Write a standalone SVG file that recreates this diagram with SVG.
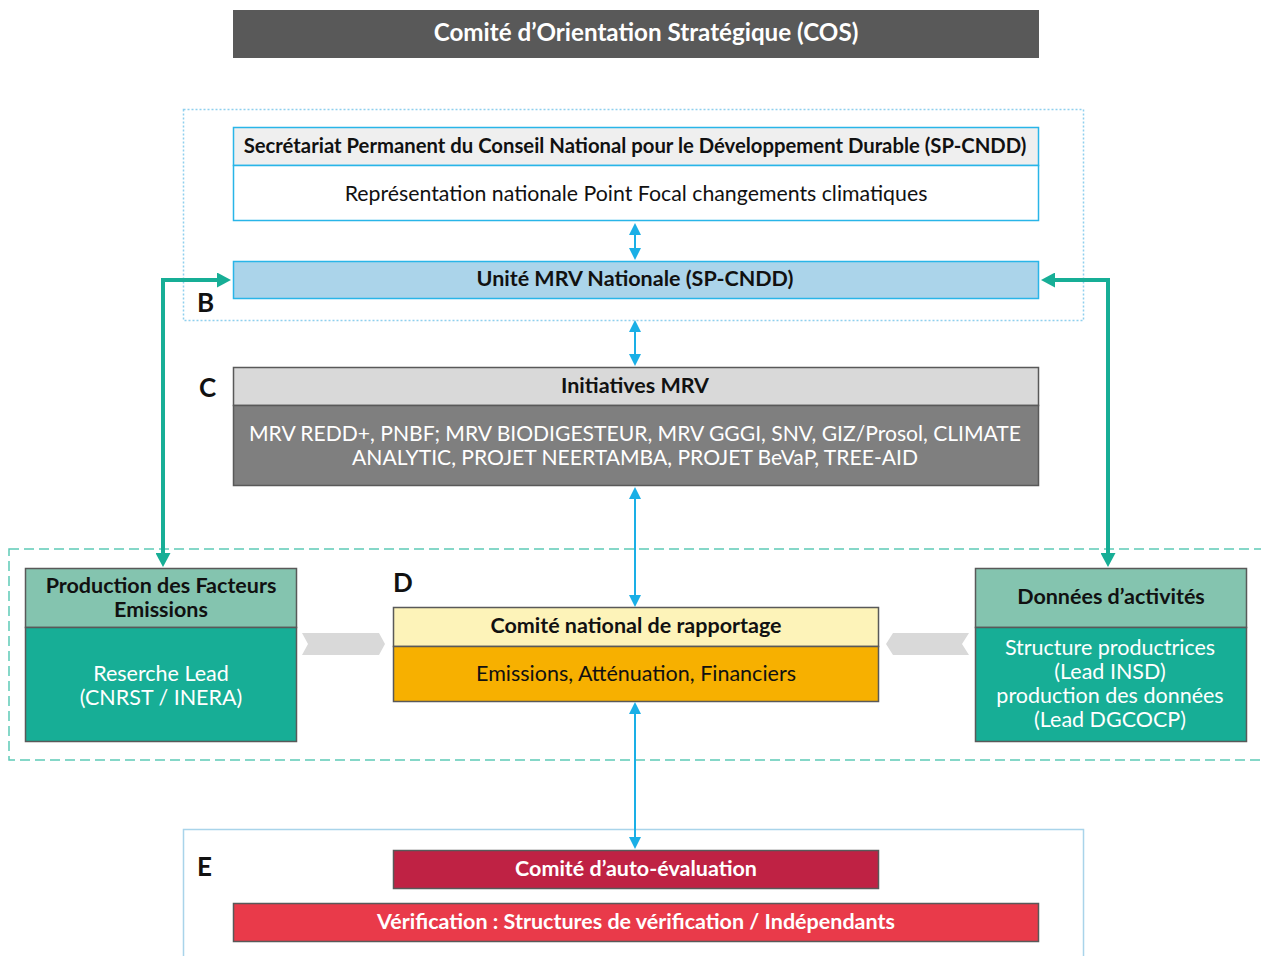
<svg xmlns="http://www.w3.org/2000/svg" width="1261" height="956" viewBox="0 0 1261 956">
<style>
text{font-family:Lato,"Liberation Sans",sans-serif;text-anchor:middle;font-size:21.5px}
.b{font-weight:bold}
.w{fill:#ffffff}
.k{fill:#111111}
.lbl{font-weight:bold;font-size:26px;text-anchor:start;fill:#111}
.gs{stroke:#595959;stroke-width:1.5}
.cy{stroke:#29b5e8;stroke-width:1.5}
.ca{stroke:#1aafe6;stroke-width:2;fill:none;marker-start:url(#ac);marker-end:url(#ac)}
.ga{stroke:#17ae96;stroke-width:4;fill:none;marker-start:url(#ag);marker-end:url(#ag)}
</style>
<defs>
<marker id="ac" markerUnits="userSpaceOnUse" markerWidth="12" markerHeight="12" refX="0" refY="6" orient="auto-start-reverse" viewBox="0 0 12 12"><path d="M0,0 L12,6 L0,12 z" fill="#1aafe6"/></marker>
<marker id="ag" markerUnits="userSpaceOnUse" markerWidth="14" markerHeight="15" refX="0" refY="7.5" orient="auto-start-reverse" viewBox="0 0 14 15"><path d="M0,0 L14,7.5 L0,15 z" fill="#17ae96"/></marker>
</defs>
<rect width="1261" height="956" fill="#ffffff"/>

<g id="frames">
<rect x="183.5" y="109.5" width="900" height="211" fill="none" stroke="#8fd0ee" stroke-width="1.5" stroke-dasharray="2 2"/>
<rect x="9" y="549" width="1270" height="211" fill="none" stroke="#5ecab6" stroke-width="1.5" stroke-dasharray="10 5"/>
<rect x="183.5" y="829.5" width="900" height="140" fill="none" stroke="#a9d4ea" stroke-width="1.5"/>
<text class="lbl" x="197" y="312">B</text>
<text class="lbl" x="199" y="397">C</text>
<text class="lbl" x="393" y="592">D</text>
<text class="lbl" x="197" y="876">E</text>
</g>

<g id="cos">
<rect x="233" y="10" width="806" height="48" fill="#595959"/>
<text class="b w" x="646" y="41" style="font-size:24.2px">Comité d’Orientation Stratégique (COS)</text>
</g>

<g id="spcndd">
<rect class="cy" x="233.5" y="127.5" width="805" height="38" fill="#efefef"/>
<rect class="cy" x="233.5" y="165.5" width="805" height="55" fill="#ffffff"/>
<text class="b k" x="635" y="153" style="font-size:20.3px">Secrétariat Permanent du Conseil National pour le Développement Durable (SP-CNDD)</text>
<text class="k" x="636" y="201" style="font-size:21.3px">Représentation nationale Point Focal changements climatiques</text>
</g>

<g id="unite">
<rect class="cy" x="233.5" y="261.5" width="805" height="37" fill="#abd4ea"/>
<text class="b k" x="635" y="286">Unité MRV Nationale (SP-CNDD)</text>
</g>

<g id="initiatives">
<rect class="gs" x="233.5" y="367.5" width="805" height="38" fill="#d9d9d9"/>
<rect class="gs" x="233.5" y="405.5" width="805" height="80" fill="#7f7f7f"/>
<text class="b k" x="635" y="393">Initiatives MRV</text>
<text class="w" x="635" y="441" style="font-size:21.1px">MRV REDD+, PNBF; MRV BIODIGESTEUR, MRV GGGI, SNV, GIZ/Prosol, CLIMATE</text>
<text class="w" x="635" y="465" style="font-size:21.1px">ANALYTIC, PROJET NEERTAMBA, PROJET BeVaP, TREE-AID</text>
</g>

<g id="facteurs">
<rect class="gs" x="25.5" y="568.5" width="271" height="59" fill="#84c4af"/>
<rect class="gs" x="25.5" y="627.5" width="271" height="114" fill="#17ae96"/>
<text class="b k" x="161" y="593">Production des Facteurs</text>
<text class="b k" x="161" y="617">Emissions</text>
<text class="w" x="161" y="681">Reserche Lead</text>
<text class="w" x="161" y="705">(CNRST / INERA)</text>
</g>

<g id="donnees">
<rect class="gs" x="975.5" y="568.5" width="271" height="59" fill="#84c4af"/>
<rect class="gs" x="975.5" y="627.5" width="271" height="114" fill="#17ae96"/>
<text class="b k" x="1111" y="604">Données d’activités</text>
<text class="w" x="1110" y="655">Structure productrices</text>
<text class="w" x="1110" y="679">(Lead INSD)</text>
<text class="w" x="1110" y="703">production des données</text>
<text class="w" x="1110" y="727">(Lead DGCOCP)</text>
</g>

<g id="rapportage">
<rect class="gs" x="393.5" y="607.5" width="485" height="39" fill="#fdf3b9"/>
<rect class="gs" x="393.5" y="646.5" width="485" height="55" fill="#f7b000"/>
<text class="b k" x="636" y="633">Comité national de rapportage</text>
<text class="k" x="636" y="681">Emissions, Atténuation, Financiers</text>
</g>

<g id="autoeval">
<rect class="gs" x="393.5" y="850.5" width="485" height="38" fill="#bf2244"/>
<text class="b w" x="636" y="876">Comité d’auto-évaluation</text>
</g>

<g id="verification">
<rect class="gs" x="233.5" y="903.5" width="805" height="38" fill="#e93a4a"/>
<text class="b w" x="636" y="929">Vérification : Structures de vérification / Indépendants</text>
</g>

<g id="connectors">
<path class="ca" d="M635,235 L635,248"/>
<path class="ca" d="M635,332 L635,354"/>
<path class="ca" d="M635,499 L635,595"/>
<path class="ca" d="M635,714 L635,837"/>
<path class="ga" d="M163,553 L163,280 L217,280"/>
<path class="ga" d="M1108,553 L1108,280 L1055,280"/>
<polygon points="302,633 379,633 385,644 379,655 302,655 308,644" fill="#d9d9d9"/>
<polygon points="886,644 893,633 969,633 962,644 969,655 893,655" fill="#d9d9d9"/>
</g>
</svg>
